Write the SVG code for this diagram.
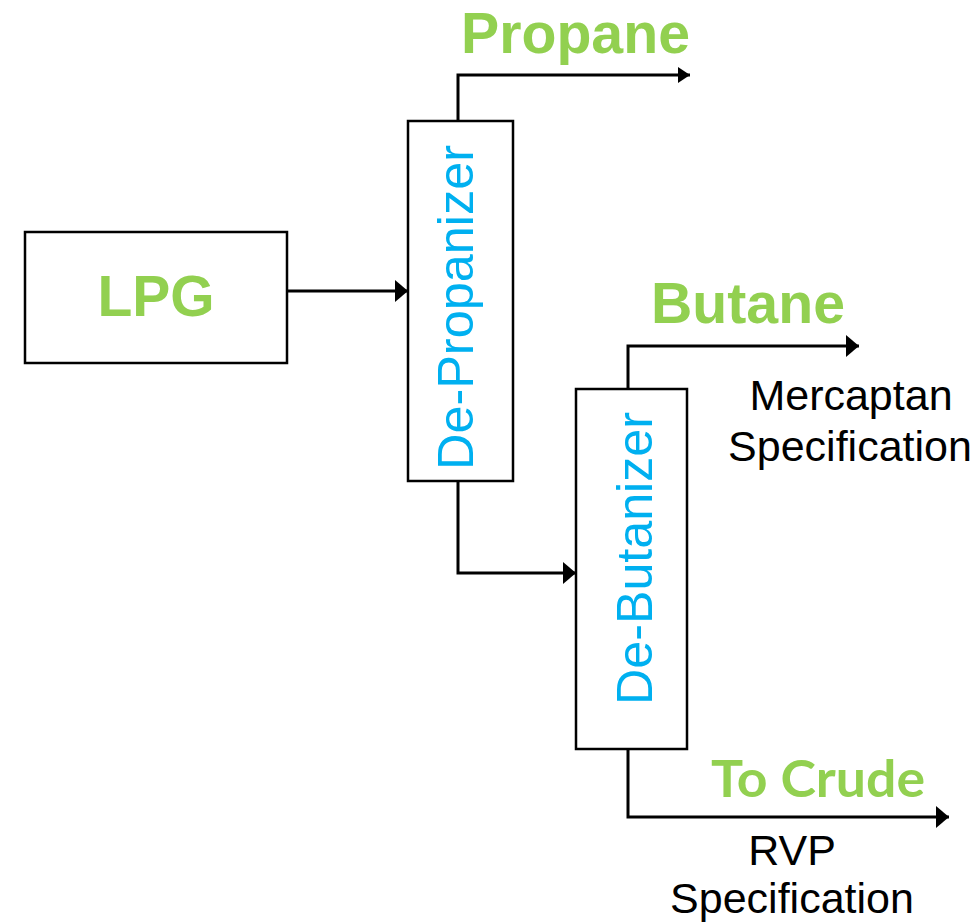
<svg xmlns="http://www.w3.org/2000/svg" width="980" height="923" viewBox="0 0 980 923">
<style>
.box{fill:#fff;stroke:#000;stroke-width:2.5}
.ln{fill:none;stroke:#000;stroke-width:3}
.g{fill:#92D050;font-family:"Liberation Sans",Arial,sans-serif;font-weight:bold;font-size:57px}
.gc{fill:#92D050;font-family:Lato,"Open Sans",sans-serif;font-weight:bold;font-size:52px}
.b{fill:#00B0F0;font-family:"Liberation Sans",Arial,sans-serif;font-size:50px}
.k{fill:#000;font-family:"Liberation Sans",Arial,sans-serif;font-size:43px}
</style>
<defs>
<marker id="ah" markerWidth="13" markerHeight="22" refX="13" refY="11" orient="auto" markerUnits="userSpaceOnUse">
<path d="M0,0 L13,11 L0,22 Z" fill="#000"/>
</marker>
<marker id="ahs" markerWidth="12" markerHeight="16" refX="12" refY="8" orient="auto" markerUnits="userSpaceOnUse">
<path d="M0,0 L12,8 L0,16 Z" fill="#000"/>
</marker>
</defs>
<g id="connectors">
<path class="ln" d="M287,291 H408" marker-end="url(#ah)"/>
<path class="ln" d="M458,121 V75 H690" marker-end="url(#ahs)"/>
<path class="ln" d="M458,481 V573 H576" marker-end="url(#ah)"/>
<path class="ln" d="M628,389 V346 H859" marker-end="url(#ah)"/>
<path class="ln" d="M628,749 V817 H949" marker-end="url(#ah)"/>
</g>
<g id="lpg">
<rect class="box" x="25" y="232" width="262" height="131"/>
<text class="g" x="156" y="316" text-anchor="middle" font-size="58">LPG</text>
</g>
<g id="de-propanizer">
<rect class="box" x="408" y="121" width="105" height="360"/>
<text class="b" transform="translate(473,470) rotate(-90)" textLength="325" lengthAdjust="spacingAndGlyphs">De-Propanizer</text>
</g>
<g id="de-butanizer">
<rect class="box" x="576" y="389" width="111" height="360"/>
<text class="b" transform="translate(652,705) rotate(-90)" textLength="293" lengthAdjust="spacingAndGlyphs">De-Butanizer</text>
</g>
<g id="propane">
<text class="g" x="461" y="53" textLength="229" lengthAdjust="spacingAndGlyphs">Propane</text>
</g>
<g id="butane">
<text class="g" x="651" y="323" textLength="194" lengthAdjust="spacingAndGlyphs">Butane</text>
<text class="k" x="851" y="410" text-anchor="middle">Mercaptan</text>
<text class="k" x="850" y="461" text-anchor="middle">Specification</text>
</g>
<g id="to-crude">
<text class="gc" x="711" y="797" textLength="214" lengthAdjust="spacingAndGlyphs">To Crude</text>
<text class="k" x="792" y="865" text-anchor="middle">RVP</text>
<text class="k" x="792" y="913" text-anchor="middle">Specification</text>
</g>
</svg>
